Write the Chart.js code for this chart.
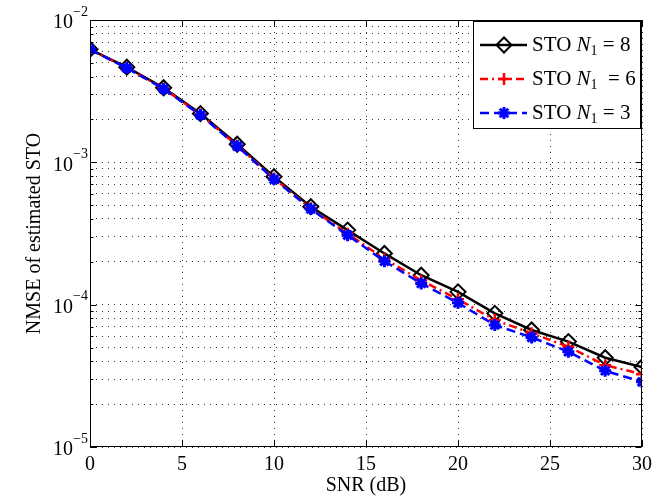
<!DOCTYPE html>
<html>
<head>
<meta charset="utf-8">
<script src="https://cdn.jsdelivr.net/npm/chart.js@4.4.0/dist/chart.umd.min.js"></script>
<style>
  html, body { margin: 0; padding: 0; background: #fff; }
  canvas { display: block; }
</style>
</head>
<body>
<canvas id="grafico" width="667" height="498"></canvas>
<script>
// valores
const snr = [0, 2, 4, 6, 8, 10, 12, 14, 16, 18, 20, 22, 24, 26, 28, 30];
const nmseN8 = [6.23e-3, 4.66e-3, 3.34e-3, 2.20e-3, 1.34e-3, 7.93e-4, 4.88e-4, 3.34e-4, 2.29e-4, 1.61e-4, 1.23e-4, 8.69e-5, 6.64e-5, 5.50e-5, 4.24e-5, 3.65e-5];
const nmseN6 = [6.20e-3, 4.62e-3, 3.30e-3, 2.17e-3, 1.31e-3, 7.70e-4, 4.75e-4, 3.15e-4, 2.10e-4, 1.48e-4, 1.09e-4, 7.80e-5, 6.30e-5, 5.06e-5, 3.76e-5, 3.25e-5];
const nmseN3 = [6.20e-3, 4.60e-3, 3.28e-3, 2.15e-3, 1.30e-3, 7.60e-4, 4.70e-4, 3.08e-4, 2.02e-4, 1.41e-4, 1.03e-4, 7.19e-5, 5.89e-5, 4.67e-5, 3.43e-5, 2.87e-5];
const xTicks = [0, 5, 10, 15, 20, 25, 30];
const yExponents = [-5, -4, -3, -2];
const legendSuffix = [' = 8', '  = 6', ' = 3'];

const serif = '"Liberation Serif", "Times New Roman", serif';

let yTicks = [];
yExponents.forEach(e => {
  for (let m = 1; m <= 9; m++) {
    if (e === -2 && m > 1) break;
    yTicks.push(m * Math.pow(10, e));
  }
});

function puntos(valores) {
  return snr.map((x, i) => ({ x: x, y: valores[i] }));
}

function marcador(ctx, ds, x, y) {
  ctx.save();
  ctx.strokeStyle = ds.pointBorderColor;
  ctx.fillStyle = ds.pointBackgroundColor;
  ctx.lineWidth = ds.pointBorderWidth;
  ctx.setLineDash([]);
  Chart.helpers.drawPoint(ctx, {
    pointStyle: ds.pointStyle, radius: ds.pointRadius,
    borderWidth: ds.pointBorderWidth, rotation: 0
  }, x, y);
  ctx.restore();
}

const marco = {
  id: 'marco',
  afterDatasetsDraw(chart) {
    const ctx = chart.ctx;
    const a = chart.chartArea;
    const sx = chart.scales.x, sy = chart.scales.y;
    ctx.save();

    // caja y marcas de los ejes
    ctx.strokeStyle = '#000';
    ctx.lineWidth = 1;
    ctx.setLineDash([]);
    const L = Math.round(a.left) + 0.5, R = Math.round(a.right) - 0.5;
    const T = Math.round(a.top) + 0.5, B = Math.round(a.bottom) - 0.5;
    ctx.strokeRect(L, T, R - L, B - T);
    ctx.beginPath();
    yTicks.forEach(v => {
      const y = Math.round(sy.getPixelForValue(v)) + 0.5;
      const mayor = Math.abs(Math.log10(v) - Math.round(Math.log10(v))) < 1e-6;
      const len = mayor ? 6 : 3;
      ctx.moveTo(L, y); ctx.lineTo(L + len, y);
      ctx.moveTo(R, y); ctx.lineTo(R - len, y);
    });
    xTicks.forEach(v => {
      const x = Math.round(sx.getPixelForValue(v)) + 0.5;
      ctx.moveTo(x, B); ctx.lineTo(x, B - 6);
      ctx.moveTo(x, T); ctx.lineTo(x, T + 6);
    });
    ctx.stroke();

    // etiquetas del eje y: 10^k
    ctx.fillStyle = '#000';
    yExponents.forEach(e => {
      const y = sy.getPixelForValue(Math.pow(10, e));
      ctx.font = '20px ' + serif;
      ctx.textAlign = 'right';
      ctx.textBaseline = 'middle';
      ctx.fillText('10', a.left - 17, y + 3);
      ctx.font = '14px ' + serif;
      ctx.textAlign = 'left';
      ctx.fillText('\u2212' + Math.abs(e), a.left - 17, y - 8);
    });

    // titulos de los ejes
    ctx.font = '20px ' + serif;
    ctx.textAlign = 'center';
    ctx.textBaseline = 'middle';
    ctx.fillText('SNR (dB)', (a.left + a.right) / 2, 486);
    ctx.save();
    ctx.translate(35, (a.top + a.bottom) / 2);
    ctx.rotate(-Math.PI / 2);
    ctx.fillText('NMSE of estimated STO', 0, 0);
    ctx.restore();

    // leyenda
    const bx = a.right - 169, by = a.top + 1, bw = 167, bh = 107;
    ctx.fillStyle = '#fff';
    ctx.fillRect(bx, by, bw, bh);
    ctx.strokeStyle = '#000';
    ctx.lineWidth = 1;
    ctx.strokeRect(Math.round(bx) + 0.5, Math.round(by) + 0.5, bw, bh);
    chart.data.datasets.forEach((ds, i) => {
      const y = by + 24 + i * 34;
      ctx.save();
      ctx.strokeStyle = ds.borderColor;
      ctx.lineWidth = ds.borderWidth;
      ctx.setLineDash(ds.borderDash || []);
      ctx.beginPath();
      ctx.moveTo(bx + 7, y); ctx.lineTo(bx + 54, y);
      ctx.stroke();
      ctx.restore();
      marcador(ctx, ds, bx + 31, y);
      ctx.fillStyle = '#000';
      ctx.textAlign = 'left';
      ctx.textBaseline = 'middle';
      let tx = bx + 59;
      ctx.font = '21px ' + serif;
      ctx.fillText('STO ', tx, y);
      tx += ctx.measureText('STO ').width;
      ctx.font = 'italic 21px ' + serif;
      ctx.fillText('N', tx, y);
      tx += ctx.measureText('N').width;
      ctx.font = '14px ' + serif;
      ctx.fillText('1', tx, y + 6);
      tx += ctx.measureText('1').width;
      ctx.font = '21px ' + serif;
      ctx.fillText(legendSuffix[i], tx, y);
    });
    ctx.restore();
  }
};

const ctx = document.getElementById('grafico').getContext('2d');
const grafico = new Chart(ctx, {
  type: 'line',
  data: {
    datasets: [{
      label: 'STO N1 = 8',
      data: puntos(nmseN8),
      borderColor: '#000',
      borderWidth: 2.5,
      pointStyle: 'rectRot',
      pointRadius: 7.5,
      pointBorderWidth: 2,
      pointBorderColor: '#000',
      pointBackgroundColor: 'rgba(0,0,0,0)',
      order: 3
    }, {
      label: 'STO N1 = 6',
      data: puntos(nmseN6),
      borderColor: '#ff0000',
      borderWidth: 2.5,
      borderDash: [8, 4, 2, 4],
      pointStyle: 'cross',
      pointRadius: 6,
      pointBorderWidth: 2.5,
      pointBorderColor: '#ff0000',
      pointBackgroundColor: '#ff0000',
      order: 2
    }, {
      label: 'STO N1 = 3',
      data: puntos(nmseN3),
      borderColor: '#0000ff',
      borderWidth: 2.5,
      borderDash: [9, 5],
      pointStyle: 'star',
      pointRadius: 6,
      pointBorderWidth: 3,
      pointBorderColor: '#0000ff',
      pointBackgroundColor: '#0000ff',
      order: 1
    }]
  },
  options: {
    responsive: false,
    animation: false,
    devicePixelRatio: 1,
    layout: { padding: { left: 0, top: 20, right: 25, bottom: 0 } },
    plugins: { legend: { display: false }, tooltip: { enabled: false } },
    elements: { line: { tension: 0, fill: false } },
    scales: {
      x: {
        type: 'linear', min: 0, max: 30,
        afterBuildTicks: s => { s.ticks = xTicks.map(v => ({ value: v })); },
        afterFit: s => { s.height = 51; },
        grid: { color: 'rgba(0,0,0,0.8)', drawTicks: false },
        border: { display: false, dash: [1, 5] },
        ticks: { padding: 6, color: '#000', font: { family: serif, size: 20 } }
      },
      y: {
        type: 'logarithmic', min: 1e-5, max: 1e-2,
        afterBuildTicks: s => { s.ticks = yTicks.map(v => ({ value: v })); },
        afterFit: s => { s.width = 90; },
        grid: { color: 'rgba(0,0,0,0.8)', drawTicks: false },
        border: { display: false, dash: [1, 5] },
        ticks: { callback: () => '', autoSkip: false }
      }
    }
  },
  plugins: [marco]
});
</script>
</body>
</html>
